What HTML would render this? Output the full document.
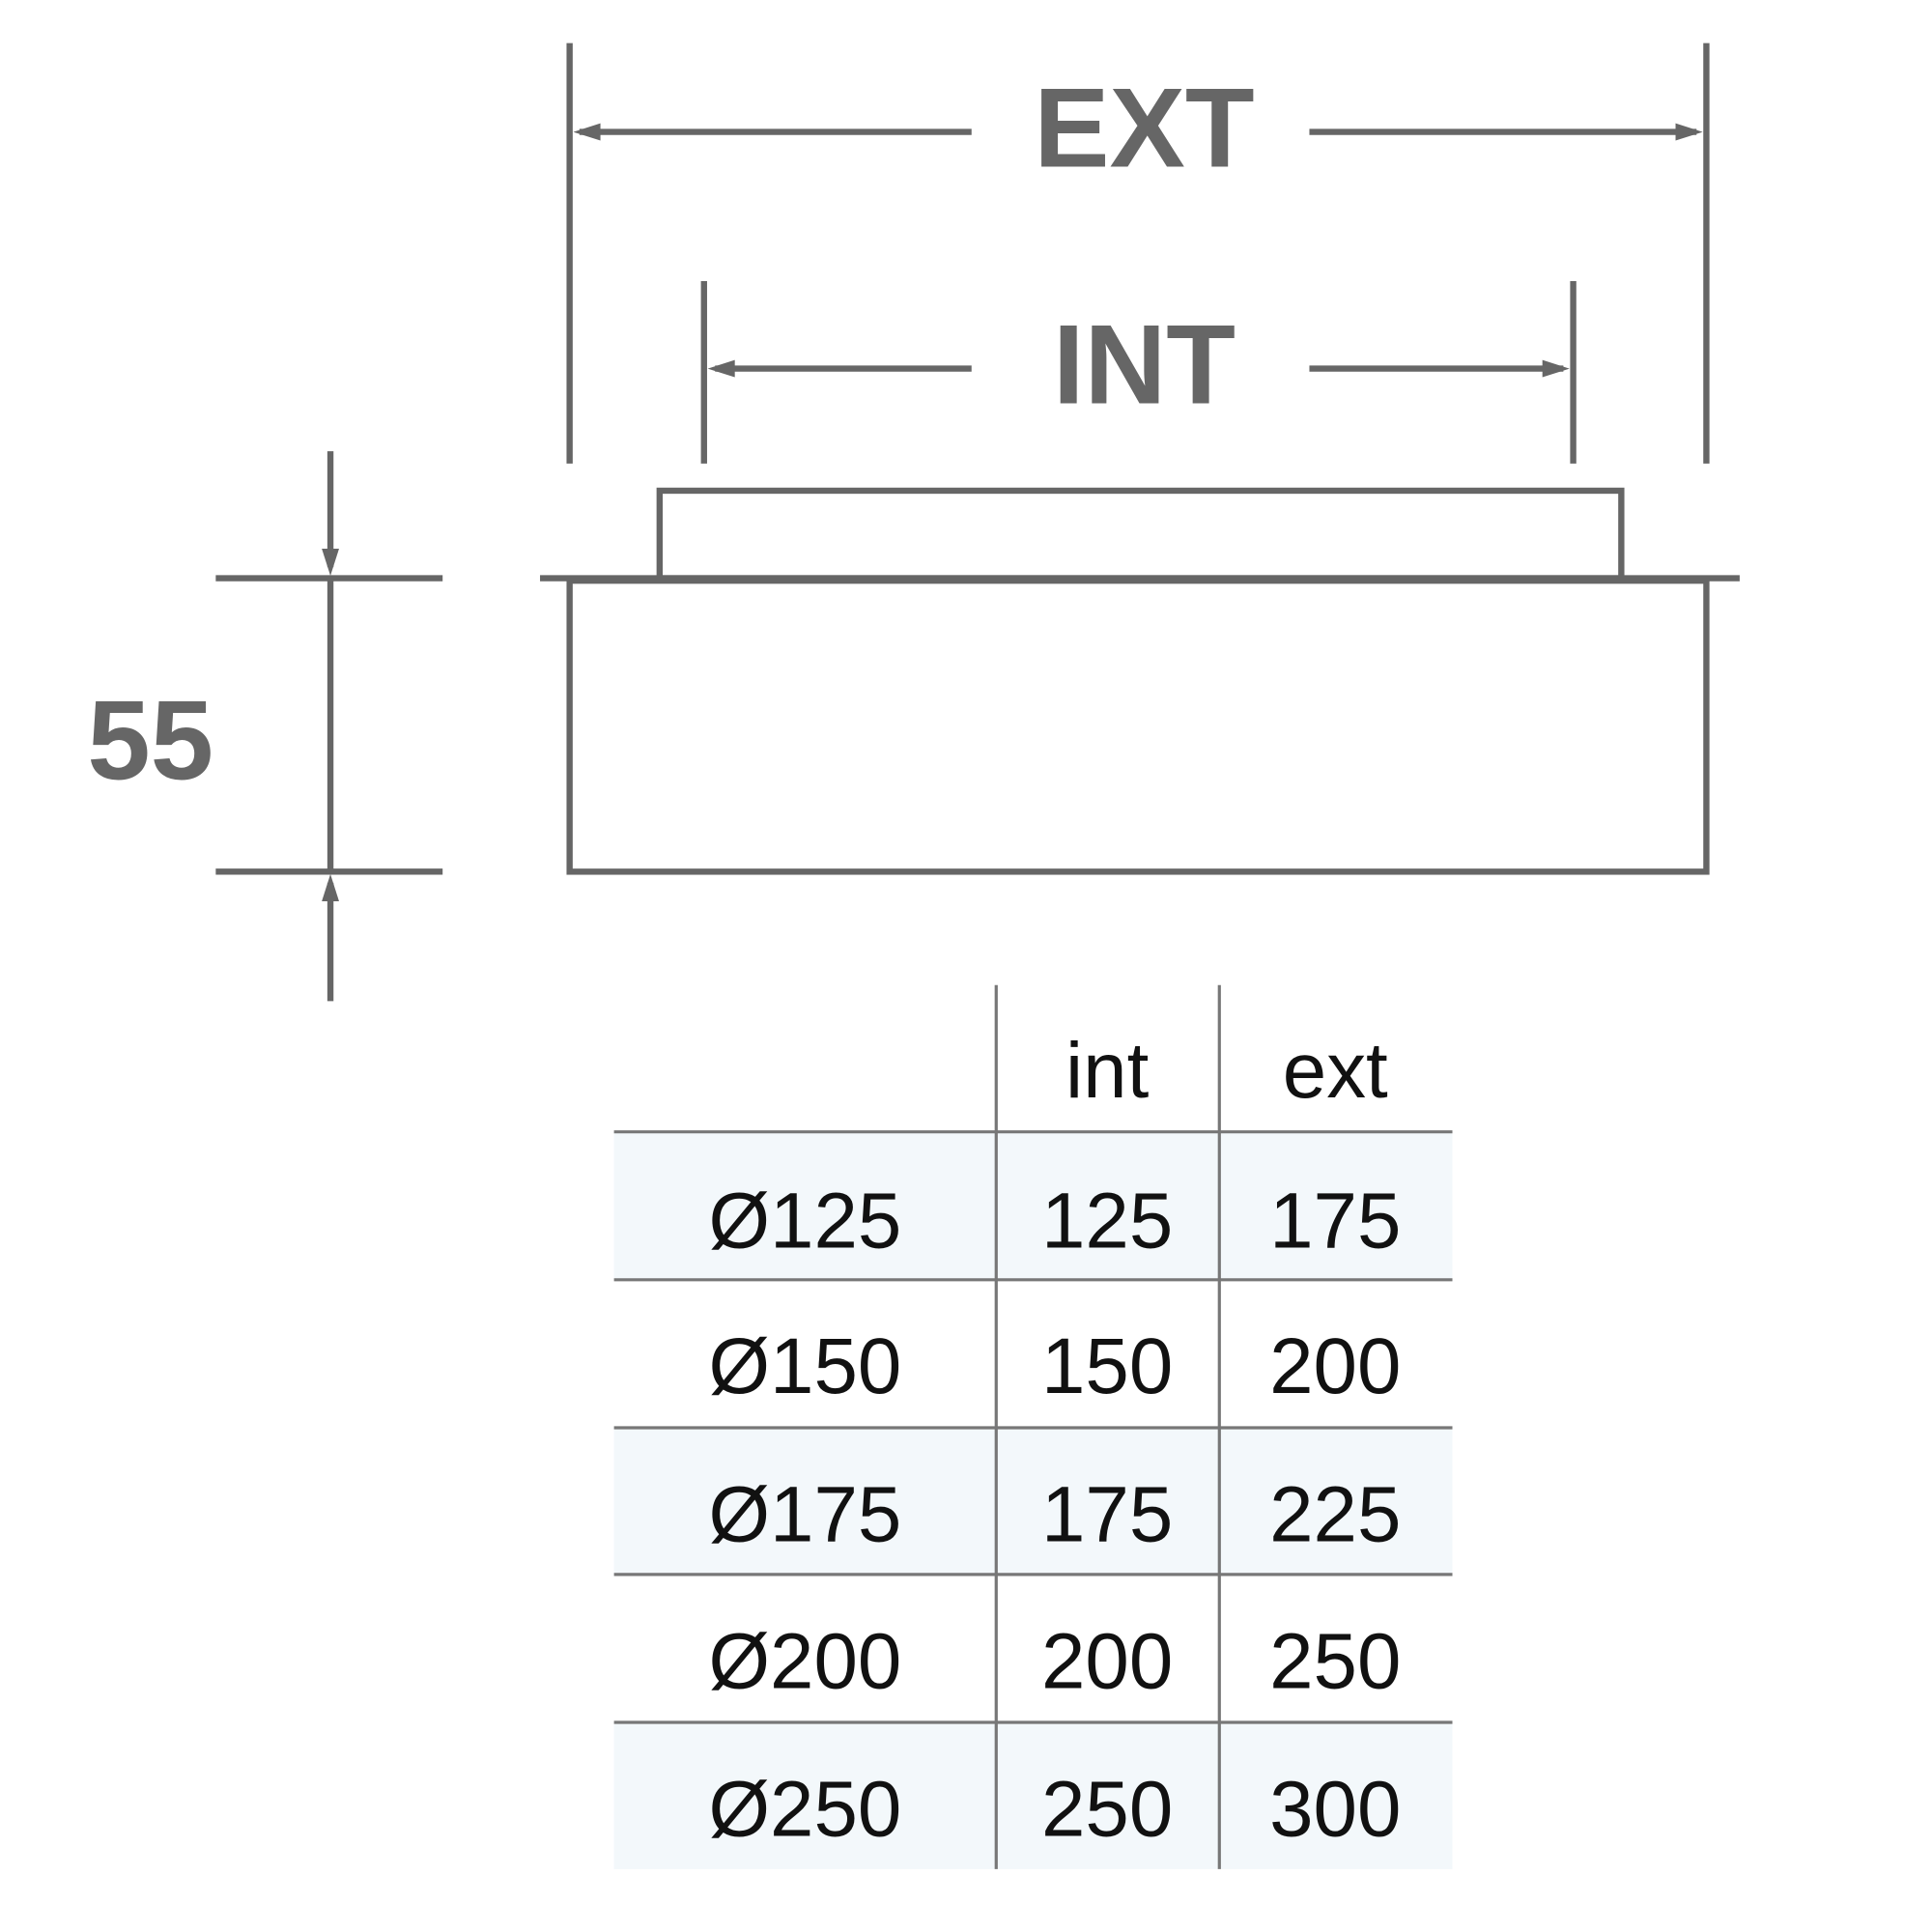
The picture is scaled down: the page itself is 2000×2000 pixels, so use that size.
<!DOCTYPE html>
<html><head><meta charset="utf-8"><style>
html,body{margin:0;padding:0;background:#fff;}
svg{display:block;}
</style></head><body>
<svg width="2000" height="2000" viewBox="0 0 1567 1567" xmlns="http://www.w3.org/2000/svg">
<g fill="#f3f8fb">
<rect x="498" y="918" width="680" height="120"/>
<rect x="498" y="1158" width="680" height="119"/>
<rect x="498" y="1397" width="680" height="119"/>
</g>
<g stroke="#666" stroke-width="5" fill="none">
<line x1="462" y1="35" x2="462" y2="376"/>
<line x1="1384" y1="35" x2="1384" y2="376"/>
<line x1="470" y1="107" x2="788" y2="107"/>
<line x1="1062" y1="107" x2="1376" y2="107"/>
<line x1="571" y1="228" x2="571" y2="376"/>
<line x1="1276" y1="228" x2="1276" y2="376"/>
<line x1="580" y1="299" x2="788" y2="299"/>
<line x1="1062" y1="299" x2="1268" y2="299"/>
<rect x="535" y="398" width="780" height="71"/>
<line x1="438" y1="469" x2="1411" y2="469"/>
<rect x="462" y="471" width="922" height="236"/>
<line x1="175" y1="469" x2="359" y2="469"/>
<line x1="175" y1="707" x2="359" y2="707"/>
<line x1="268" y1="366" x2="268" y2="460"/>
<line x1="268" y1="469" x2="268" y2="707"/>
<line x1="268" y1="716" x2="268" y2="812"/>
</g>
<g fill="#666">
<polygon points="465,107 487,100 487,114"/>
<polygon points="1381,107 1359,100 1359,114"/>
<polygon points="574,299 596,292 596,306"/>
<polygon points="1273,299 1251,292 1251,306"/>
<polygon points="268,467 261,445 275,445"/>
<polygon points="268,709 261,731 275,731"/>
</g>
<g stroke="#777" stroke-width="2.5">
<line x1="808" y1="799" x2="808" y2="1516"/>
<line x1="989" y1="799" x2="989" y2="1516"/>
<line x1="498" y1="918" x2="1178" y2="918"/>
<line x1="498" y1="1038" x2="1178" y2="1038"/>
<line x1="498" y1="1158" x2="1178" y2="1158"/>
<line x1="498" y1="1277" x2="1178" y2="1277"/>
<line x1="498" y1="1397" x2="1178" y2="1397"/>
</g>
<g font-family="Liberation Sans, sans-serif" font-weight="bold" fill="#666" text-anchor="middle" font-size="92">
<text x="928" y="135">EXT</text>
<text x="928" y="327">INT</text>
<text x="122" y="632">55</text>
</g>
<g font-family="Liberation Sans, sans-serif" fill="#111" text-anchor="middle" font-size="64" font-weight="300">
<text x="898" y="890">int</text>
<text x="1083" y="890">ext</text>
<text x="653" y="1012">Ø125</text><text x="898" y="1012">125</text><text x="1083" y="1012">175</text>
<text x="653" y="1130">Ø150</text><text x="898" y="1130">150</text><text x="1083" y="1130">200</text>
<text x="653" y="1250">Ø175</text><text x="898" y="1250">175</text><text x="1083" y="1250">225</text>
<text x="653" y="1369">Ø200</text><text x="898" y="1369">200</text><text x="1083" y="1369">250</text>
<text x="653" y="1489">Ø250</text><text x="898" y="1489">250</text><text x="1083" y="1489">300</text>
</g>
</svg>
</body></html>
